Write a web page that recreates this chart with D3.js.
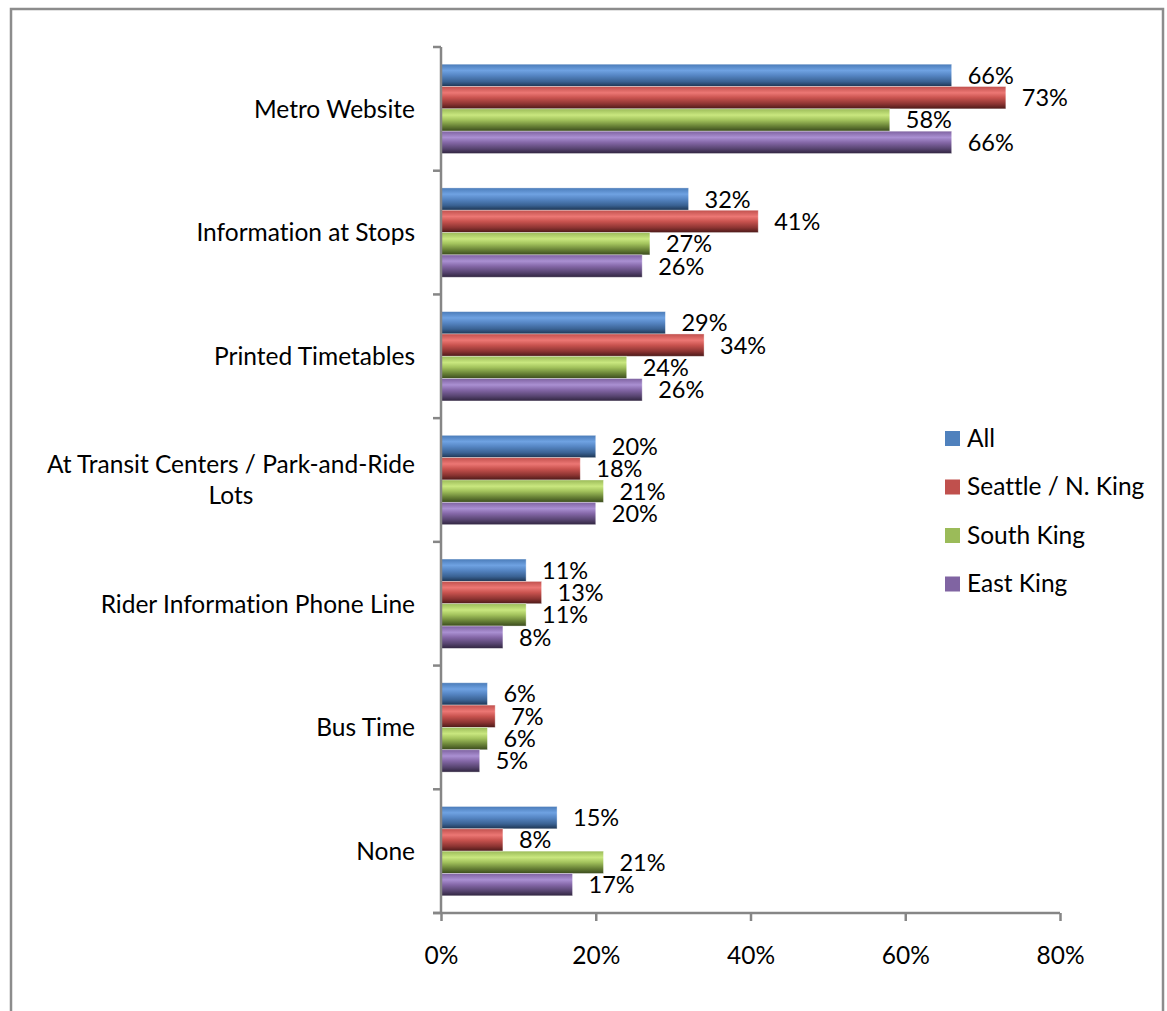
<!DOCTYPE html>
<html>
<head>
<meta charset="utf-8">
<script src="https://cdn.jsdelivr.net/npm/d3@7"></script>
<style>
    body { margin: 0; background: #fff; }
    text { font-family: Lato, "Open Sans", sans-serif; fill: #000; font-variant-ligatures: none; }
</style>
</head>
<body>
<div id="chart"></div>
<script>
// Data
const categories = [
    'Metro Website',
    'Information at Stops',
    'Printed Timetables',
    'At Transit Centers / Park-and-Ride|Lots',
    'Rider Information Phone Line',
    'Bus Time',
    'None'
];
const seriesNames = ['All', 'Seattle / N. King', 'South King', 'East King'];
const allValues = [66, 32, 29, 20, 11, 6, 15];
const seattleValues = [73, 41, 34, 18, 13, 7, 8];
const southValues = [58, 27, 24, 21, 11, 6, 21];
const eastValues = [66, 26, 26, 20, 8, 5, 17];
const xTicks = [0, 20, 40, 60, 80];

const seriesValues = [allValues, seattleValues, southValues, eastValues];

// colours: flat legend colour and stops of the shaded bar
const palette = [
    { base: '#4f81bd', stops: ['#4a7bb8', '#6fa2e2', '#5686c4', '#3a6293', '#1d3552'] },
    { base: '#c0504d', stops: ['#c0504d', '#ec7774', '#c9534f', '#8c3432', '#4b1918'] },
    { base: '#9bbb59', stops: ['#9bbb59', '#c9e77f', '#a2c25c', '#667f35', '#3a4a1d'] },
    { base: '#8064a2', stops: ['#7e62a0', '#aa90d2', '#8568a8', '#584571', '#30253f'] }
];
const stopOffsets = ['0%', '28%', '50%', '78%', '100%'];

const config = {
    width: 1167,
    height: 1011,
    margin: { top: 47, left: 441 },
    innerWidth: 619,
    innerHeight: 866,
    fontSize: 24.5,
    valueFontSize: 23.5
};

const svg = d3.select('#chart').append('svg')
    .attr('width', config.width)
    .attr('height', config.height);

// outer frame
svg.append('rect')
    .attr('x', 11).attr('y', 9)
    .attr('width', 1152).attr('height', 1030)
    .attr('fill', 'none')
    .attr('stroke', '#8c8c8c')
    .attr('stroke-width', 2.5);

const defs = svg.append('defs');
palette.forEach((p, i) => {
    const grad = defs.append('linearGradient')
        .attr('id', 'bar-grad-' + i)
        .attr('x1', 0).attr('y1', 0).attr('x2', 0).attr('y2', 1);
    grad.selectAll('stop')
        .data(p.stops)
        .join('stop')
        .attr('offset', (d, k) => stopOffsets[k])
        .attr('stop-color', d => d);
});

const chart = svg.append('g')
    .attr('transform', `translate(${config.margin.left},${config.margin.top})`);

const x = d3.scaleLinear().domain([0, 80]).range([0, config.innerWidth]);
const y = d3.scaleBand().domain(categories).range([0, config.innerHeight]).paddingInner(0).paddingOuter(0);
const ySub = d3.scaleBand().domain(d3.range(seriesNames.length))
    .range([0, y.bandwidth()]).paddingOuter(0.77).paddingInner(0);

// bars
const groups = chart.selectAll('.cat')
    .data(categories)
    .join('g')
    .attr('class', 'cat')
    .attr('transform', d => `translate(0,${y(d)})`);

groups.selectAll('rect')
    .data((d, ci) => seriesValues.map((vals, si) => ({ s: si, v: vals[ci] })))
    .join('rect')
    .attr('x', 0)
    .attr('y', d => ySub(d.s))
    .attr('width', d => x(d.v))
    .attr('height', ySub.bandwidth())
    .attr('fill', d => `url(#bar-grad-${d.s})`)
    .attr('stroke', 'rgba(255,255,255,0.45)')
    .attr('stroke-width', 0.8);

// value labels
groups.selectAll('.val')
    .data((d, ci) => seriesValues.map((vals, si) => ({ s: si, v: vals[ci] })))
    .join('text')
    .attr('class', 'val')
    .attr('x', d => x(d.v) + 16)
    .attr('y', d => ySub(d.s) + ySub.bandwidth() / 2)
    .attr('dy', '0.36em')
    .style('font-size', config.valueFontSize + 'px')
    .text(d => d.v + '%');

// x axis
const xAxis = chart.append('g')
    .attr('transform', `translate(0,${config.innerHeight})`)
    .call(d3.axisBottom(x).tickValues(xTicks).tickSize(8).tickPadding(26).tickFormat(d => d + '%'));
xAxis.select('.domain').attr('d', `M-8,0H${config.innerWidth}`);

// y axis (ticks at category boundaries)
const yAxis = chart.append('g');
const boundaries = d3.range(categories.length + 1).map(i => i * y.step());
yAxis.append('line')
    .attr('x1', 0).attr('x2', 0)
    .attr('y1', 0).attr('y2', config.innerHeight);
yAxis.selectAll('.ytick')
    .data(boundaries)
    .join('line')
    .attr('class', 'ytick')
    .attr('x1', -8).attr('x2', 0)
    .attr('y1', d => d).attr('y2', d => d);

chart.selectAll('.domain, .tick line, line')
    .attr('stroke', '#868686')
    .attr('stroke-width', 2.5);
xAxis.selectAll('.tick text')
    .style('font-size', config.fontSize + 'px')
    .attr('fill', '#000');

// category labels, multi-line labels centered as a block right-aligned to axis
const catLabels = chart.selectAll('.catlabel')
    .data(categories)
    .join('text')
    .attr('class', 'catlabel')
    .style('font-size', config.fontSize + 'px');

catLabels.each(function (d) {
    const lines = d.split('|');
    const t = d3.select(this);
    const cy = y(d) + y.bandwidth() / 2;
    const lineH = 31;
    lines.forEach((ln, k) => {
        t.append('tspan')
            .attr('y', cy + (k - (lines.length - 1) / 2) * lineH)
            .attr('dy', '0.36em')
            .text(ln);
    });
    // measure widest line for alignment
    const widths = [];
    t.selectAll('tspan').each(function () { widths.push(this.getComputedTextLength()); });
    const maxW = d3.max(widths);
    const right = -26;
    t.selectAll('tspan')
        .attr('text-anchor', 'middle')
        .attr('x', right - maxW / 2);
});

// legend
const legend = svg.append('g')
    .attr('transform', 'translate(945,438)');
const legendItems = legend.selectAll('.leg')
    .data(seriesNames)
    .join('g')
    .attr('class', 'leg')
    .attr('transform', (d, i) => `translate(0,${i * 48.5})`);
legendItems.append('rect')
    .attr('x', 0).attr('y', -7)
    .attr('width', 15).attr('height', 15)
    .attr('fill', (d, i) => palette[i].base);
legendItems.append('text')
    .attr('x', 22)
    .attr('y', 0)
    .attr('dy', '0.36em')
    .style('font-size', config.fontSize + 'px')
    .text(d => d);
</script>
</body>
</html>
